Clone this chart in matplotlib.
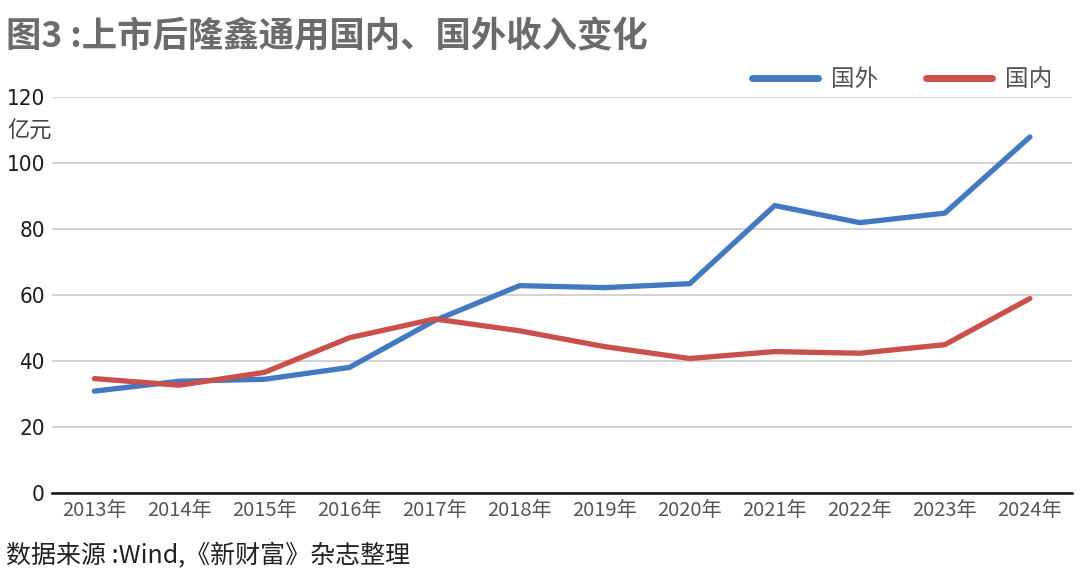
import numpy as np
import matplotlib.pyplot as plt
from matplotlib.lines import Line2D
from matplotlib import font_manager

plt.rcParams['font.family'] = ['Noto Sans CJK SC', 'DejaVu Sans']

# data (亿元)
years = ['2013年', '2014年', '2015年', '2016年', '2017年', '2018年',
         '2019年', '2020年', '2021年', '2022年', '2023年', '2024年']
foreign = [30.9, 33.9, 34.5, 38.1, 52.3, 62.9, 62.3, 63.5, 87.2, 82.0, 84.9, 108.0]
domestic = [34.7, 32.7, 36.6, 47.1, 52.8, 49.2, 44.4, 40.8, 42.9, 42.4, 45.0, 59.0]
yticks = [0, 20, 40, 60, 80, 100, 120]

blue = '#4279c0'
red = '#c9504b'

# narrow face for the numbers if there is one
names = {f.name for f in font_manager.fontManager.ttflist}
narrow = 'Liberation Sans Narrow' if 'Liberation Sans Narrow' in names else 'DejaVu Sans'

fig = plt.figure(figsize=(10.8, 5.75), dpi=100)
ax = fig.add_axes([0.048, 0.1426, 0.945, 0.688])

x = np.arange(len(years))
ax.plot(x, foreign, color=blue, lw=3.8, solid_capstyle='round', solid_joinstyle='round', zorder=3)
ax.plot(x, domestic, color=red, lw=3.8, solid_capstyle='round', solid_joinstyle='round', zorder=3)

ax.set_xlim(-0.5, len(years) - 0.5)
ax.set_ylim(0, 120)
ax.set_yticks(yticks)
ax.set_xticks(x)
ax.set_xticklabels(years)

for lab in ax.get_yticklabels():
    lab.set_fontfamily([narrow, 'DejaVu Sans'])
    lab.set_fontstretch('condensed')
    lab.set_fontsize(16)
    lab.set_color('#1a1a1a')
for lab in ax.get_xticklabels():
    lab.set_fontsize(14.5)
    lab.set_color('#555555')

ax.tick_params(axis='both', length=0)
ax.tick_params(axis='y', pad=5)
ax.tick_params(axis='x', pad=5)

ax.grid(axis='y', color='#d3d3d3', lw=1.4)
ax.set_axisbelow(True)
for s in ['top', 'right', 'left']:
    ax.spines[s].set_visible(False)
ax.spines['bottom'].set_color('#111111')
ax.spines['bottom'].set_linewidth(1.8)
ax.spines['bottom'].set_zorder(4)

fig.text(0.007, 0.772, '亿元', fontsize=16, color='#444444', va='center', ha='left')

fig.text(0.006, 0.935, '图3 :上市后隆鑫通用国内、国外收入变化', fontsize=25.5,
         fontweight='bold', color='#6b6b6b', va='center', ha='left')

fig.text(0.006, 0.032, '数据来源 :Wind,《新财富》杂志整理', fontsize=18,
         color='#222222', va='center', ha='left')

handles = [Line2D([], [], color=blue, lw=5, solid_capstyle='round'),
           Line2D([], [], color=red, lw=5, solid_capstyle='round')]
leg = fig.legend(handles, ['国外', '国内'], loc='center right', bbox_to_anchor=(0.985, 0.862),
                 ncol=2, frameon=False, fontsize=17, handlelength=2.8, columnspacing=2.0,
                 handletextpad=0.55, borderpad=0)
for t in leg.get_texts():
    t.set_color('#555555')

fig.savefig('out.png', dpi=100)
